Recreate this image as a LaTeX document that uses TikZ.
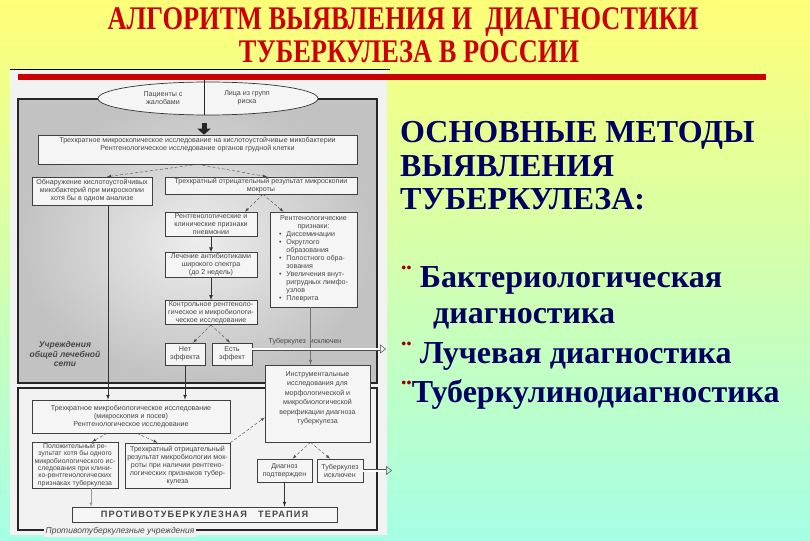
\documentclass[tikz,border=0pt]{standalone}
\usepackage{fontspec}
\setmainfont{Liberation Serif}
\setsansfont{Liberation Sans}
\usetikzlibrary{shapes.geometric,arrows.meta}
\definecolor{titlered}{RGB}{204,0,0}
\definecolor{bulletred}{RGB}{150,0,0}
\definecolor{navytext}{RGB}{0,0,96}
\definecolor{bgtop}{RGB}{255,255,120}
\definecolor{bgmid}{RGB}{230,255,165}
\definecolor{bgbot}{RGB}{165,255,230}
\definecolor{scangray}{RGB}{242,242,242}
\definecolor{inkgray}{RGB}{70,70,70}
\newcommand\flowfont{\sffamily\fontsize{7.1}{8}\selectfont}

\begin{document}
\begin{tikzpicture}[x=1pt,y=-1pt,
  box/.style={draw=black!75, line width=0.6pt, fill=white!96!black, text=inkgray, font=\flowfont, align=center, inner sep=1pt},
  dasharrow/.style={-latex, densely dashed, black!70},
  solidarrow/.style={-latex, black!80, line width=0.7pt},
  hollowarrow/.style={double=white, double distance=2pt, line width=0.5pt, black!70, -{Triangle[open,length=6pt,width=9pt]}},
  method/.style={anchor=base west, font=\fontsize{32}{36}\selectfont\bfseries, text=navytext, inner sep=0pt}]
  \useasboundingbox (0,0) rectangle (810,540);
  \shade[top color=bgtop, middle color=bgmid, bottom color=bgbot] (0,0) rectangle (810,540);
  \fill[scangray] (10,69) rectangle (387,535);
  \draw[black, line width=0.8pt] (10,69) -- (390,69);

  \node[font=\fontsize{33}{36}\selectfont\bfseries, text=titlered, anchor=base, inner sep=0pt] (title1) at (403,30) {\scalebox{0.8}[1]{АЛГОРИТМ ВЫЯВЛЕНИЯ И\ \ ДИАГНОСТИКИ}};
  \node[font=\fontsize{33}{36}\selectfont\bfseries, text=titlered, anchor=base, inner sep=0pt] (title2) at (409,63) {\scalebox{0.8}[1]{ТУБЕРКУЛЕЗА В РОССИИ}};

  \shadedraw[draw=black!85, line width=1.3pt, inner color=black!7, outer color=black!24] (18,99) rectangle (377,383);
  \draw[black!85, line width=1.1pt, fill=scangray] (18,388) rectangle (377,530);
  \fill[titlered] (18,74) rectangle (766,80);

  \node[ellipse, draw=black!80, fill=white!96!black, line width=0.7pt, minimum width=220pt, minimum height=33pt] (groups) at (208,98.5) {};
  \coordinate (feed) at (204,80);
  \draw[black!85, line width=0.8pt] (feed) -- (feed |- groups.south);
  \node[font=\flowfont, text=inkgray, align=center] (patients) at (163,98) {Пациенты с\\жалобами};
  \node[font=\flowfont, text=inkgray, align=center] (riskgroups) at (247,98) {Лица из групп\\риска};

  \node[box, minimum width=319pt, minimum height=29pt] (screen) at (197.5,149.5) {Трехкратное микроскопическое исследование на кислотоустойчивые микобактерии\\Рентгенологическое исследование органов грудной клетки\\\strut};
  \draw[black!85, line width=5pt, -{Triangle[length=6pt,width=13pt]}] (feed |- groups.south) ++(0,8) -- (feed |- screen.north);

  \node[box, minimum width=120pt, minimum height=28pt] (smearpos) at (92,191) {Обнаружение кислотоустойчивых\\микобактерий при микроскопии\\хотя бы в одном анализе};
  \node[box, minimum width=192pt, minimum height=17pt] (smearneg) at (261,185.5) {Трехкратный отрицательный результат микроскопии\\мокроты};
  \node[box, minimum width=92pt, minimum height=24pt] (pneumonia) at (211,224) {Рентгенологические и\\клинические признаки\\пневмонии};
  \node[box, minimum width=92pt, minimum height=24pt] (antibiotics) at (211,265) {Лечение антибиотиками\\широкого спектра\\(до 2 недель)};
  \node[box, minimum width=92pt, minimum height=23pt] (control) at (211,312.5) {Контрольное рентгеноло-\\гическое и микробиологи-\\ческое исследование};
  \node[box, minimum width=87pt, minimum height=95pt] (xraysigns) at (313.5,259.5) {Рентгенологические\\признаки:\\
    \begin{tabular}{@{}c@{\hspace{5pt}}l@{}}
    • & Диссеминации\\
    • & Округлого\\
      & образования\\
    • & Полостного обра-\\
      & зования\\
    • & Увеличения внут-\\
      & ригрудных лимфо-\\
      & узлов\\
    • & Плеврита
    \end{tabular}};
  \node[box, minimum width=40pt, minimum height=22pt] (noeffect) at (185,354) {Нет\\эффекта};
  \node[box, minimum width=40pt, minimum height=22pt] (effect) at (232,354) {Есть\\эффект};
  \node[font=\flowfont, text=inkgray] (excluded) at (305,342) {Туберкулез\ \ исключен};
  \coordinate (effectout) at (386,349);

  \node[font=\sffamily\bfseries\itshape\fontsize{8.5}{9.5}\selectfont, text=inkgray, align=center] (gennet) at (65,354) {Учреждения\\общей лечебной\\сети};

  \node[box, minimum width=105pt, minimum height=77pt, font=\sffamily\fontsize{7.1}{9.5}\selectfont] (instrumental) at (317.5,403.5) {Инструментальные\\исследования для\\морфологической и\\микробиологической\\верификации диагноза\\туберкулеза\\\strut};
  \node[box, minimum width=198pt, minimum height=33pt] (tbscreen) at (131,416.5) {Трехкратное микробиологическое исследование\\(микроскопия и посев)\\Рентгенологическое исследование};
  \node[box, minimum width=86pt, minimum height=46pt, font=\sffamily\fontsize{6.9}{7.4}\selectfont] (culturepos) at (75,465) {Положительный ре-\\зультат хотя бы одного\\микробиологического ис-\\следования при клини-\\ко-рентгенологических\\признаках туберкулеза};
  \node[box, minimum width=105pt, minimum height=45pt] (negxray) at (177.5,465.5) {Трехкратный отрицательный\\результат микробиологии мок-\\роты при наличии рентгено-\\логических признаков тубер-\\кулеза};
  \node[box, minimum width=55pt, minimum height=23pt] (diagconf) at (284.5,470.5) {Диагноз\\подтвержден};
  \node[box, minimum width=46pt, minimum height=23pt] (tbexcl) at (340,470.5) {Туберкулез\\исключен};
  \coordinate (tbexclout) at (392,470.5);
  \node[box, minimum width=265pt, minimum height=15pt, font=\sffamily\bfseries\fontsize{9.2}{10}\selectfont\addfontfeature{LetterSpace=12}] (therapy) at (204.5,514.5) {ПРОТИВОТУБЕРКУЛЕЗНАЯ\ \ \ ТЕРАПИЯ};
  \node[font=\sffamily\itshape\fontsize{8.5}{10}\selectfont, text=inkgray, fill=scangray, inner sep=2pt] (tbinst) at (120,531) {Противотуберкулезные учреждения};

  \draw[dasharrow] (screen.south) -- ([xshift=15pt]smearpos.north);
  \draw[dasharrow] (screen.south) -- ([xshift=6pt]smearneg.north);
  \draw[solidarrow] ([xshift=16pt]smearpos.south) -- ([xshift=16pt]smearpos.south |- tbscreen.north);
  \draw[dasharrow] ([xshift=2pt]smearneg.south) -- ([xshift=34pt]pneumonia.north);
  \draw[dasharrow] ([xshift=2pt]smearneg.south) -- ([xshift=-30pt]xraysigns.north);
  \draw[solidarrow] (pneumonia) -- (antibiotics);
  \draw[solidarrow] (antibiotics) -- (control);
  \draw[dasharrow] (control.south) -- ([xshift=8pt]noeffect.north);
  \draw[dasharrow] (control.south) -- ([xshift=-2pt]effect.north);
  \draw[solidarrow] (noeffect.south) -- (noeffect.south |- tbscreen.north);
  \draw[solidarrow, black!55] ([xshift=-3pt]xraysigns.south) -- ([xshift=-3pt]xraysigns.south |- instrumental.north);
  \draw[hollowarrow] ([yshift=5pt]effect.east) -- (effectout);
  \draw[dasharrow] ([xshift=-24pt]tbscreen.south) -- ([xshift=17pt]culturepos.north);
  \draw[dasharrow] ([xshift=6pt]tbscreen.south) -- ([xshift=-20pt]negxray.north);
  \draw[dasharrow] (negxray.north east) -- ([yshift=-14pt]instrumental.west);
  \draw[dasharrow] ([xshift=-7pt]instrumental.south) -- ([xshift=8pt]diagconf.north);
  \draw[dasharrow] ([xshift=-7pt]instrumental.south) -- ([xshift=-10pt]tbexcl.north);
  \draw[solidarrow] (diagconf.south) -- (diagconf.south |- therapy.north);
  \draw[-latex, black!40] ([xshift=16pt]culturepos.south) -- ([xshift=16pt]culturepos.south |- therapy.north);
  \draw[hollowarrow] (tbexcl.east) -- (tbexclout);

  \node[method] (m1) at (400,143) {ОСНОВНЫЕ МЕТОДЫ};
  \node[method] (m2) at (400,176) {ВЫЯВЛЕНИЯ};
  \node[method] (m3) at (400,209) {ТУБЕРКУЛЕЗА:};
  \node[method] (m4) at (401,287) {{\color{bulletred}¨} Бактериологическая};
  \node[method] (m5) at (433,323) {диагностика};
  \node[method] (m6) at (401,363) {{\color{bulletred}¨} Лучевая диагностика};
  \node[method] (m7) at (401,402) {{\color{bulletred}¨}Туберкулинодиагностика};
\end{tikzpicture}
\end{document}
